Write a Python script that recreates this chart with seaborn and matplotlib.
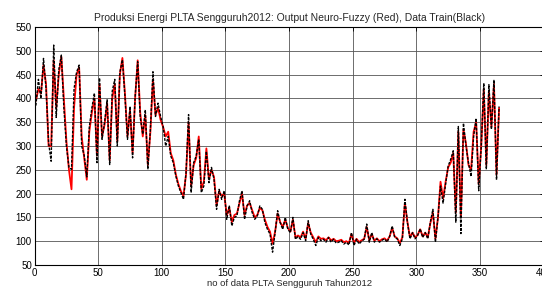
import numpy as np
import pandas as pd
import matplotlib
matplotlib.use("Agg")
import matplotlib.pyplot as plt
import seaborn as sns

# day index (every second day of 2012)
days = np.arange(1, 366, 2)

# data train (black, dashed)
train = [
    385, 440, 400, 484, 420, 307, 268, 512, 360, 460,
    491, 380, 300, 255, 251, 420, 455, 470, 300, 280,
    235, 340, 380, 411, 265, 443, 314, 350, 397, 261,
    415, 440, 300, 455, 481, 404, 314, 383, 275, 404,
    477, 360, 325, 376, 251, 335, 456, 362, 390, 362,
    341, 300, 320, 279, 265, 237, 216, 202, 188, 244,
    366, 202, 265, 279, 314, 202, 216, 289, 223, 255,
    230, 167, 209, 188, 206, 146, 175, 132, 150, 153,
    185, 206, 146, 174, 185, 160, 146, 153, 174, 167,
    139, 125, 115, 77, 118, 164, 139, 125, 150, 125,
    118, 150, 104, 110, 104, 118, 101, 143, 115, 104,
    91, 108, 101, 104, 98, 108, 98, 104, 96, 98,
    101, 94, 98, 92, 118, 91, 104, 94, 100, 104,
    136, 98, 118, 98, 105, 98, 102, 105, 98, 110,
    132, 108, 105, 91, 105, 188, 139, 105, 118, 105,
    112, 126, 108, 118, 105, 140, 167, 98, 150, 216,
    180, 220, 258, 272, 290, 140, 341, 116, 348, 300,
    264, 236, 320, 358, 206, 299, 432, 251, 429, 335,
    439, 229, 383,
]

# neuro-fuzzy output (red, solid)
output = [
    395, 420, 410, 470, 430, 300, 300, 480, 380, 450,
    488, 400, 310, 250, 209, 380, 450, 465, 320, 275,
    229, 330, 370, 400, 280, 430, 320, 345, 390, 270,
    400, 430, 310, 450, 485, 410, 320, 375, 285, 400,
    480, 370, 320, 365, 260, 330, 440, 365, 380, 355,
    340, 320, 330, 285, 270, 240, 220, 205, 195, 240,
    350, 215, 260, 275, 320, 210, 225, 295, 230, 250,
    235, 175, 205, 195, 200, 155, 170, 140, 155, 158,
    180, 200, 155, 175, 180, 165, 150, 155, 170, 165,
    145, 130, 120, 95, 120, 158, 140, 130, 145, 128,
    120, 145, 108, 112, 108, 120, 105, 138, 118, 108,
    98, 110, 105, 106, 102, 108, 102, 105, 100, 101,
    103, 98, 100, 96, 115, 97, 105, 98, 102, 105,
    130, 102, 115, 101, 106, 100, 104, 106, 101, 110,
    128, 110, 106, 96, 108, 180, 140, 108, 118, 108,
    113, 125, 110, 118, 108, 138, 160, 105, 150, 225,
    190, 225, 255, 265, 285, 160, 330, 150, 335, 305,
    260, 250, 330, 350, 220, 300, 420, 260, 415, 340,
    430, 240, 380,
]

df = pd.DataFrame({"day": days, "train": train, "output": output})

sns.set_style("whitegrid")
plt.rcParams["font.family"] = ["Liberation Sans", "DejaVu Sans"]
plt.rcParams["font.size"] = 7

fig = plt.figure(figsize=(5.42, 2.90), dpi=100)
# right edge of the axes lies just outside the picture, as in the original crop
ax = fig.add_axes([34.6 / 542, 25 / 290, 509 / 542, 238 / 290])

sns.lineplot(data=df, x="day", y="output", ax=ax, color="red", linewidth=1.3)
sns.lineplot(data=df, x="day", y="train", ax=ax, color="black", linewidth=1.0,
             linestyle=(0, (2, 1)))

ax.set_xlim(0, 400)
ax.set_ylim(50, 550)
ax.set_xticks(np.arange(0, 401, 50))
ax.set_yticks(np.arange(50, 551, 50))
ax.grid(True, color="#555555", linewidth=0.6, linestyle="-")
for s in ax.spines.values():
    s.set_color("black")
    s.set_linewidth(0.8)
ax.tick_params(direction="in", length=3, width=0.6, top=True, right=True,
               labelsize=7, pad=2, colors="black")

ax.set_title("Produksi Energi PLTA Sengguruh2012: Output Neuro-Fuzzy (Red), Data Train(Black)",
             fontsize=7.5, pad=4)
ax.set_xlabel("no of data PLTA Sengguruh Tahun2012", fontsize=6.8, labelpad=1)
ax.set_ylabel("")

fig.savefig("out.png", dpi=100)
